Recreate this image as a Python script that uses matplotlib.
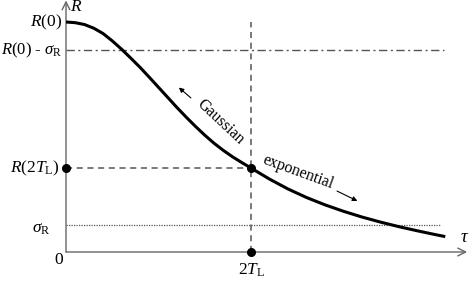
import matplotlib
matplotlib.use("Agg")
import matplotlib.pyplot as plt

plt.rcParams['mathtext.fontset'] = 'custom'
plt.rcParams['mathtext.rm'] = 'Liberation Serif'
plt.rcParams['mathtext.it'] = 'Liberation Serif:italic'
plt.rcParams['font.family'] = ['Liberation Serif', 'DejaVu Serif']

# Curve (tau in units of T_L, R normalised to R(0)=1)
tau = [0.0, 0.1, 0.2, 0.3, 0.4, 0.5, 0.6, 0.7, 0.8, 0.9, 1.0, 1.1, 1.2,
       1.3, 1.4, 1.5, 1.6, 1.7, 1.8, 1.9, 2.0, 2.2, 2.4, 2.6, 2.8, 3.0,
       3.2, 3.4, 3.6, 3.8, 4.0, 4.1]
R = [1.000, 0.997, 0.989, 0.973, 0.950, 0.918, 0.882, 0.843, 0.803, 0.760,
     0.716, 0.672, 0.628, 0.586, 0.546, 0.508, 0.473, 0.442, 0.414, 0.389,
     0.365, 0.317, 0.274, 0.237, 0.205, 0.177, 0.152, 0.130, 0.110, 0.092,
     0.075, 0.067]

R0 = 1.0
sigma_R = 0.117
R0_minus_sigma = 0.878
tau_2TL = 2.0
R_2TL = 0.365

y_labels = [r'$R$(0)', r'$R$(0) - $\sigma_{\mathrm{R}}$', r'$R$(2$T_{\mathrm{L}}$)', r'$\sigma_{\mathrm{R}}$']

W, H = 469, 282
fig = plt.figure(figsize=(W / 100, H / 100), dpi=100)
ax = fig.add_axes([66 / W, 30 / H, (W - 66) / W, 252 / H])
xmax = (W - 66) / 92.5
ymax = 252 / 230
ax.set_xlim(0, xmax)
ax.set_ylim(0, ymax)
ax.axis('off')

gray = '#555555'
# axes with arrows
ax.annotate('', xy=(xmax - 0.02, 0), xytext=(0, 0),
            arrowprops=dict(arrowstyle='->', color='#666666', lw=1.0,
                            mutation_scale=14, shrinkA=0, shrinkB=0),
            annotation_clip=False)
ax.annotate('', xy=(0, ymax - 0.002), xytext=(0, 0),
            arrowprops=dict(arrowstyle='->', color='#666666', lw=1.0,
                            mutation_scale=14, shrinkA=0, shrinkB=0),
            annotation_clip=False)

# reference lines
ax.plot([0, 4.09], [R0_minus_sigma, R0_minus_sigma], color=gray, lw=1.0,
        linestyle=(0, (6, 2.5, 1.5, 2.5)))
ax.plot([0, 4.04], [sigma_R, sigma_R], color=gray, lw=0.9, linestyle=(0, (1, 1)))
ax.plot([0, tau_2TL], [R_2TL, R_2TL], color=gray, lw=1.1, linestyle=(0, (4, 3)))
ax.plot([tau_2TL, tau_2TL], [0, R0], color=gray, lw=1.1, linestyle=(0, (4, 3)))

# curve
ax.plot(tau, R, color='black', lw=2.2, solid_capstyle='butt',
        solid_joinstyle='round', zorder=5)

# dots
ax.plot([0, tau_2TL, tau_2TL], [R_2TL, R_2TL, 0], 'o', color='black', ms=5.5,
        clip_on=False, zorder=6)

fs = 12.5
ax.text(-0.04, R0, y_labels[0], ha='right', va='center', fontsize=fs, clip_on=False)
ax.text(-0.04, R0_minus_sigma, y_labels[1], ha='right', va='center', fontsize=12, clip_on=False)
ax.text(-0.065, R_2TL, y_labels[2], ha='right', va='center', fontsize=fs, clip_on=False)
ax.text(-0.17, sigma_R - 0.015, y_labels[3], ha='right', va='center', fontsize=fs, clip_on=False)
ax.text(-0.075, -0.035, '0', ha='center', va='center', fontsize=fs, clip_on=False)
ax.text(tau_2TL, -0.08, r'2$T_{\mathrm{L}}$', ha='center', va='center', fontsize=fs, clip_on=False)
ax.text(4.31, 0.065, r'$\tau$', ha='center', va='center', fontsize=fs + 1, clip_on=False)
ax.text(0.11, ymax - 0.032, r'$R$', ha='center', va='center', fontsize=fs, clip_on=False)

# annotations
ax.text(1.67, 0.565, 'Gaussian', rotation=-43, ha='center', va='center',
        fontsize=11.5, rotation_mode='anchor')
ax.annotate('', xy=(1.22, 0.715), xytext=(1.35, 0.67),
            arrowprops=dict(arrowstyle='-|>', color='black', lw=0.8,
                            mutation_scale=7, shrinkA=0, shrinkB=0))
ax.text(2.51, 0.345, 'exponential', rotation=-20, ha='center', va='center',
        fontsize=11.5, rotation_mode='anchor')
ax.annotate('', xy=(3.15, 0.222), xytext=(2.93, 0.265),
            arrowprops=dict(arrowstyle='-|>', color='black', lw=0.8,
                            mutation_scale=7, shrinkA=0, shrinkB=0))

fig.savefig('out.png', dpi=100)
